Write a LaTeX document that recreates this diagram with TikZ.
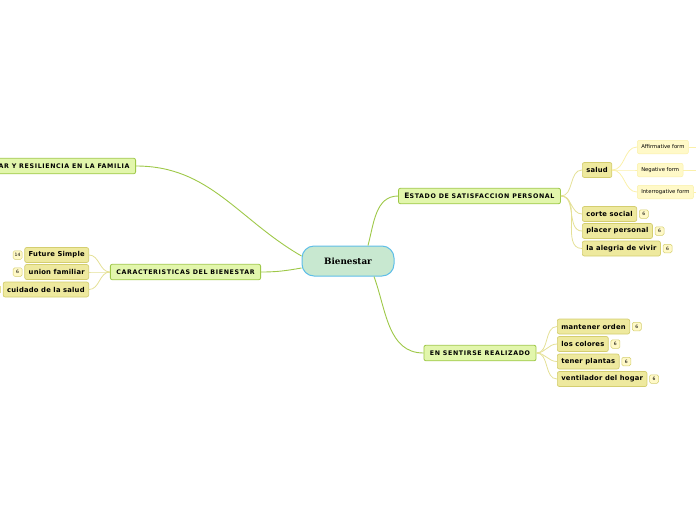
\documentclass[tikz,border=0pt]{standalone}
\usepackage{fontspec}
\setmainfont{DejaVu Sans}
\newfontfamily\rootfont{DejaVu Serif}
\newfontfamily\capsfont[LetterSpace=10]{DejaVu Sans}
\newfontfamily\subfont[LetterSpace=3]{DejaVu Sans}
\usetikzlibrary{positioning}
\definecolor{rootfill}{RGB}{200,232,208}
\definecolor{rootline}{RGB}{95,190,232}
\definecolor{mainfill}{RGB}{226,246,172}
\definecolor{mainline}{RGB}{158,200,72}
\definecolor{subfill}{RGB}{238,233,158}
\definecolor{subline}{RGB}{212,206,112}
\definecolor{leaffill}{RGB}{255,249,200}
\definecolor{leafline}{RGB}{250,240,170}
\definecolor{twig}{RGB}{228,224,150}
\begin{document}
\begin{tikzpicture}[x=1pt,y=1pt,
    rootbox/.style={draw=rootline, line width=1pt, fill=rootfill, rounded corners=12pt,
      minimum width=92pt, minimum height=30pt, font=\rootfont\bfseries\fontsize{8.8}{9}\selectfont},
    mainbox/.style={draw=mainline, line width=0.8pt, fill=mainfill, rounded corners=2pt,
      minimum height=15.5pt, inner xsep=6pt, font=\capsfont\bfseries\fontsize{6.3}{7}\selectfont},
    subbox/.style={draw=subline, line width=0.7pt, fill=subfill, rounded corners=2pt,
      minimum height=15pt, inner xsep=4pt, font=\subfont\bfseries\fontsize{6.8}{7}\selectfont},
    leafbox/.style={draw=leafline, line width=0.5pt, fill=leaffill, rounded corners=2pt,
      minimum height=13.5pt, inner xsep=4pt, font=\fontsize{5.3}{6}\selectfont},
    badge/.style={draw=subline, line width=0.5pt, fill=leaffill, rounded corners=1.5pt,
      minimum height=8.5pt, minimum width=9pt, inner sep=1pt, font=\fontsize{4.5}{5}\selectfont},
    mainlink/.style={draw=mainline, line width=0.9pt},
    sublink/.style={draw=twig, line width=0.8pt}]
\useasboundingbox (0,0) rectangle (696,-520);
\clip (0,0) rectangle (696,-520);

\node[rootbox] (root) at (348,-261) {Bienestar};

\node[mainbox] (estado) at (479.5,-196) {{\fontsize{7.5}{7}\selectfont E}STADO DE SATISFACCION PERSONAL};
\node[mainbox] (realizado) at (480,-353) {EN SENTIRSE REALIZADO};
\node[mainbox] (caract) at (185.5,-272) {CARACTERISTICAS DEL BIENESTAR};
\node[mainbox, anchor=east] (familia) at (136,-166) {AR Y RESILIENCIA EN LA FAMILIA};

\draw[mainlink] ([xshift=20pt]root.north) to[out=75,in=180] (estado.west);
\draw[mainlink] ([xshift=26pt]root.south) to[out=-70,in=180] (realizado.west);
\draw[mainlink] ([yshift=5pt]root.west) to[out=150,in=0] (familia.east);
\draw[mainlink] ([yshift=-7pt]root.west) to[out=190,in=0] (caract.east);

% estado de satisfaccion
\node[subbox, anchor=west] (salud) at (582,-170) {salud};
\node[subbox, anchor=west] (corte) at (582,-214) {corte social};
\node[subbox, anchor=west] (placer) at (582,-231) {placer personal};
\node[subbox, anchor=west] (alegria) at (582,-248.5) {la alegria de vivir};
\node[badge, right=2pt of corte] (corteN) {6};
\node[badge, right=2pt of placer] (placerN) {6};
\node[badge, right=2pt of alegria] (alegriaN) {6};
\foreach \n in {salud,corte,placer,alegria}
  \draw[sublink] (estado.east) to[out=0,in=180] (\n.west);

\node[leafbox, anchor=west] (afirm) at (637,-147) {Affirmative form};
\node[leafbox, anchor=west] (negat) at (637,-170) {Negative form};
\node[leafbox, anchor=west] (interr) at (637,-192) {Interrogative form};
\foreach \n in {afirm,negat,interr}
  \draw[sublink, draw=leafline] (salud.east) to[out=0,in=180] (\n.west);
\coordinate (afirmR) at (700,-147);
\coordinate (negatR) at (700,-170);
\coordinate (interrR) at (700,-192);
\draw[sublink, draw=leafline] (afirm.east) -- (afirmR);
\draw[sublink, draw=leafline] (negat.east) -- (negatR);
\draw[sublink, draw=leafline] (interr.east) -- (interrR);

% en sentirse realizado
\node[subbox, anchor=west] (orden) at (557,-326.5) {mantener orden};
\node[subbox, anchor=west] (colores) at (557,-344) {los colores};
\node[subbox, anchor=west] (plantas) at (557,-361.5) {tener plantas};
\node[subbox, anchor=west] (ventil) at (557,-379) {ventilador del hogar};
\node[badge, right=2pt of orden] (ordenN) {6};
\node[badge, right=2pt of colores] (coloresN) {6};
\node[badge, right=2pt of plantas] (plantasN) {6};
\node[badge, right=2pt of ventil] (ventilN) {6};
\foreach \n in {orden,colores,plantas,ventil}
  \draw[sublink] (realizado.east) to[out=0,in=180] (\n.west);

% caracteristicas
\node[subbox, anchor=east] (future) at (89,-255) {Future Simple};
\node[subbox, anchor=east] (union) at (89,-272) {union familiar};
\node[subbox, anchor=east] (cuidado) at (89,-289.5) {cuidado de la salud};
\node[badge, left=2pt of future] (futureN) {14};
\node[badge, left=2pt of union] (unionN) {6};
\node[badge, left=2pt of cuidado] (cuidadoN) {6};
\foreach \n in {future,union,cuidado}
  \draw[sublink] (caract.west) to[out=180,in=0] (\n.east);
\end{tikzpicture}
\end{document}
